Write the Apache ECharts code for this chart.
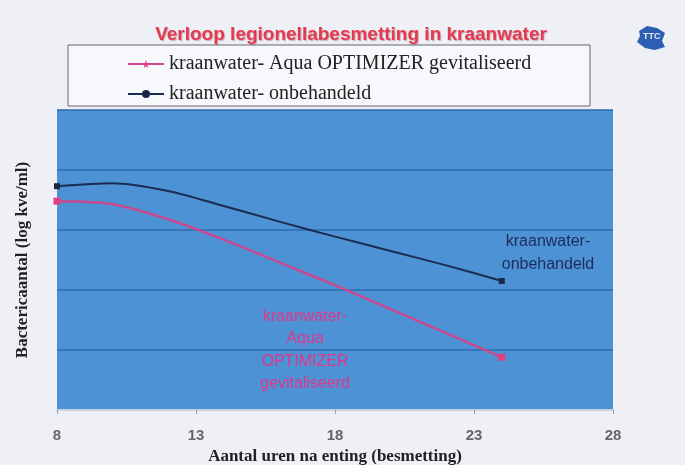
<!DOCTYPE html>
<html lang="nl" style="height: 100%">
<head>
  <meta charset="utf-8">
</head>
<body style="height: 100%; margin: 0; background: #eef0f5">
  <div id="container" style="height: 100%"></div>

  <script type="text/javascript" src="https://fastly.jsdelivr.net/npm/echarts@6/dist/echarts.min.js"></script>
  <script type="text/javascript">
    // uren na enting
    var hours = [8, 10, 12, 14, 16, 18, 20, 22, 24];
    // log kve/ml
    var untreated = [3.73, 3.78, 3.65, 3.40, 3.14, 2.89, 2.65, 2.41, 2.15];
    var optimizer = [3.48, 3.43, 3.18, 2.84, 2.46, 2.08, 1.68, 1.28, 0.88];
    var seriesNames = ['kraanwater- Aqua OPTIMIZER gevitaliseerd', 'kraanwater- onbehandeld'];

    var STAR = 'path://M50,0L61,35L98,35L68,57L79,91L50,70L21,91L32,57L2,35L39,35Z';

    var dom = document.getElementById('container');
    var myChart = echarts.init(dom, null, { renderer: 'canvas' });

    // alleen eerste en laatste punt krijgen een marker
    function toPoints(values, endSymbol, endSize) {
      return values.map(function (v, i) {
        var last = i === 0 || i === values.length - 1;
        return last
          ? { value: [hours[i], v], symbol: endSymbol, symbolSize: endSize }
          : { value: [hours[i], v], symbol: 'none' };
      });
    }

    var option = {
      backgroundColor: '#eef0f5',
      title: {
        text: 'Verloop legionellabesmetting in kraanwater',
        left: 346,
        top: 20,
        textAlign: 'center',
        textStyle: {
          fontFamily: 'Liberation Sans',
          fontSize: 19,
          fontWeight: 'bold',
          color: '#e5394f',
          textShadowColor: 'rgba(120,40,60,0.35)',
          textShadowOffsetX: 1,
          textShadowOffsetY: 1,
          textShadowBlur: 1
        }
      },
      legend: {
        orient: 'vertical',
        left: 122,
        top: 49,
        itemGap: 10,
        itemWidth: 36,
        itemHeight: 10,
        data: seriesNames,
        textStyle: {
          fontFamily: 'Liberation Serif',
          fontSize: 20,
          color: '#222'
        }
      },
      grid: {
        left: 57,
        right: 72,
        top: 110,
        bottom: 55,
        containLabel: false,
        outerBoundsMode: 'none',
        show: true,
        backgroundColor: '#4c92d5',
        borderWidth: 0
      },
      xAxis: {
        type: 'value',
        min: 8,
        max: 28,
        interval: 5,
        name: 'Aantal uren na enting (besmetting)',
        nameLocation: 'middle',
        nameGap: 35,
        nameTextStyle: {
          fontFamily: 'Liberation Serif',
          fontSize: 17,
          fontWeight: 'bold',
          color: '#222'
        },
        axisLine: { show: true, lineStyle: { color: '#c9d3e0', width: 2 } },
        axisTick: { show: true, length: 4, lineStyle: { color: '#8aa0bc' } },
        splitLine: { show: false },
        axisLabel: {
          margin: 18,
          fontFamily: 'Liberation Sans',
          fontSize: 15,
          fontWeight: 'bold',
          color: '#666'
        }
      },
      yAxis: {
        type: 'value',
        min: 0,
        max: 5,
        interval: 1,
        name: 'Bactericaantal (log kve/ml)',
        nameLocation: 'middle',
        nameGap: 26,
        nameTextStyle: {
          fontFamily: 'Liberation Serif',
          fontSize: 17,
          fontWeight: 'bold',
          color: '#222'
        },
        axisLine: { show: false },
        axisTick: { show: false },
        axisLabel: { show: false },
        splitLine: { show: true, lineStyle: { color: '#2d6aad', width: 1.5 } }
      },
      series: [
        {
          name: seriesNames[0],
          type: 'line',
          smooth: 0.3,
          symbol: STAR,
          symbolSize: 10,
          color: '#e0407c',
          lineStyle: { color: '#c9488f', width: 2.5 },
          itemStyle: { color: '#e0407c' },
          data: toPoints(optimizer, 'rect', 7)
        },
        {
          name: seriesNames[1],
          type: 'line',
          smooth: 0.3,
          symbol: 'circle',
          symbolSize: 6,
          color: '#1b2747',
          lineStyle: { color: '#1c2b50', width: 2 },
          itemStyle: { color: '#1b2747' },
          data: toPoints(untreated, 'rect', 6)
        }
      ],
      graphic: [
        {
          type: 'rect',
          z: -1,
          shape: { x: 68, y: 45, width: 522, height: 61 },
          style: { fill: '#f7f8fb', stroke: '#666', lineWidth: 1 }
        },
        {
          type: 'text',
          x: 548,
          y: 230,
          style: {
            text: 'kraanwater-\nonbehandeld',
            align: 'center',
            fill: '#1e2c5c',
            font: '16px "Liberation Sans"',
            lineHeight: 23
          }
        },
        {
          type: 'text',
          x: 305,
          y: 305,
          style: {
            text: 'kraanwater-\nAqua\nOPTIMIZER\ngevitaliseerd',
            align: 'center',
            fill: '#e0378c',
            font: '16px "Liberation Sans"',
            lineHeight: 22.5
          }
        },
        {
          type: 'group',
          left: 637,
          top: 26,
          children: [
            {
              type: 'polygon',
              shape: { points: [[4, 6], [12, 1], [22, 3], [30, 8], [27, 16], [30, 22], [20, 25], [10, 23], [2, 17], [5, 11]] },
              style: { fill: '#2c5fb3' }
            },
            {
              type: 'text',
              left: 8,
              top: 7,
              style: { text: 'TTC', fill: '#dfe8f7', font: 'bold 9px "Liberation Sans"' }
            }
          ]
        }
      ]
    };

    myChart.setOption(option);
    window.addEventListener('resize', myChart.resize);
  </script>
</body>
</html>
